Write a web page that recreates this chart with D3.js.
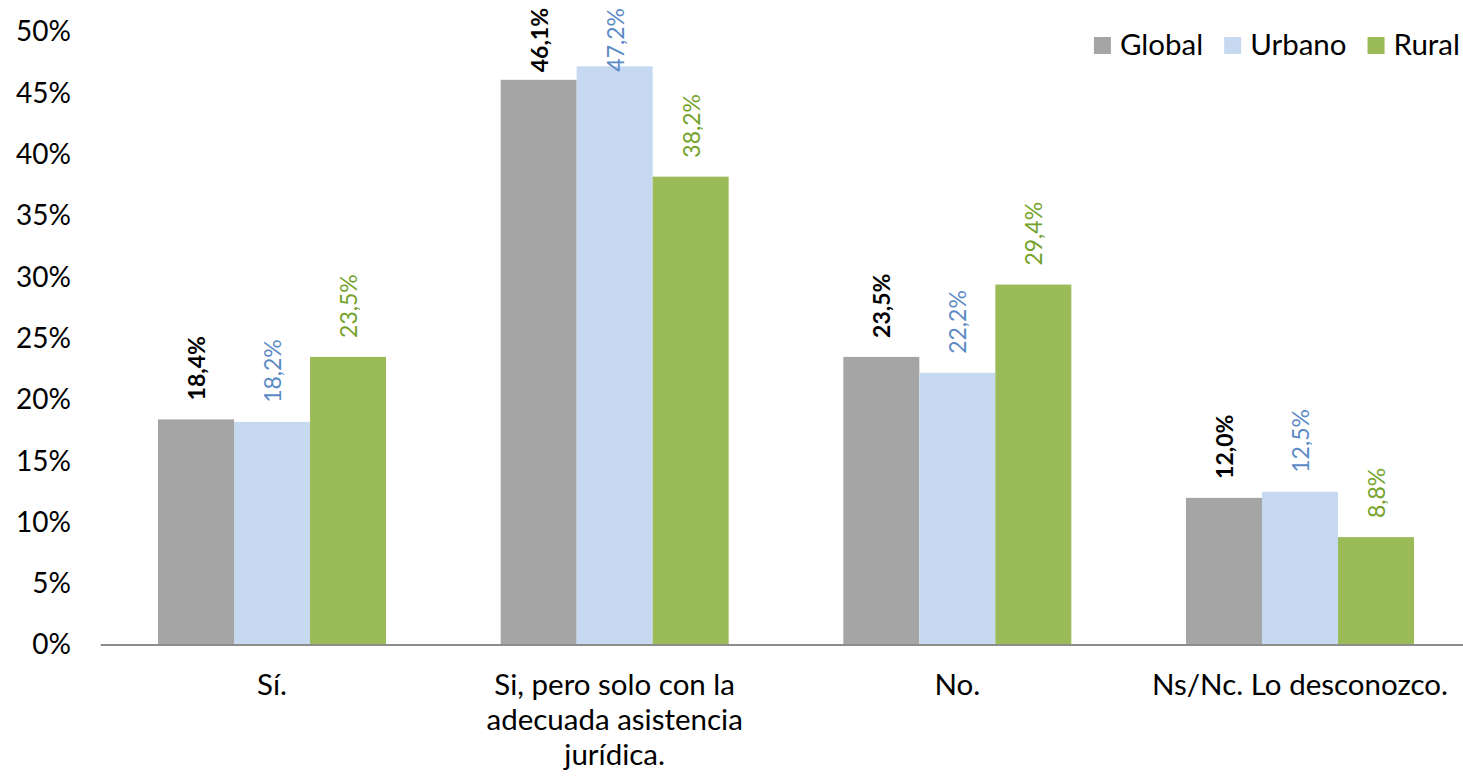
<!DOCTYPE html>
<html><head><meta charset="utf-8">
<script src="https://cdn.jsdelivr.net/npm/d3@7"></script>
<style>
html,body{margin:0;padding:0;background:#fff;}
svg{display:block;font-family:Lato,"Open Sans",sans-serif;}
</style></head>
<body>
<svg id="chart" width="1463" height="778"></svg>
<script>
const categories = ["Sí.", "Si, pero solo con la adecuada asistencia jurídica.", "No.", "Ns/Nc. Lo desconozco."];
const seriesNames = ["Global", "Urbano", "Rural"];
const globalValues = [18.4, 46.1, 23.5, 12.0];
const urbanoValues = [18.2, 47.2, 22.2, 12.5];
const ruralValues = [23.5, 38.2, 29.4, 8.8];
const yTicks = [0, 5, 10, 15, 20, 25, 30, 35, 40, 45, 50];

const seriesValues = [globalValues, urbanoValues, ruralValues];
const barColors = ["#A5A5A5", "#C6D9F1", "#9BBB59"];
const labelColors = ["#000000", "#5B8AC6", "#74A22A"];
const labelWeights = ["bold", "normal", "normal"];

const svg = d3.select("#chart");
const x0 = d3.scaleBand().domain(categories).range([100.7, 1471.3]).paddingInner(0.3346).paddingOuter(0.1673);
const x1 = d3.scaleBand().domain(seriesNames).range([0, x0.bandwidth()]).padding(0);
const y = d3.scaleLinear().domain([0, 50]).range([645, 32]);

// y tick labels
const yAxis = svg.append("g").attr("transform", "translate(71,0)")
  .call(d3.axisLeft(y).tickValues(yTicks).tickSize(0).tickPadding(0).tickFormat(d => d + "%"));
yAxis.select(".domain").remove();
yAxis.selectAll("text").attr("font-size", 28).attr("fill", "#000").attr("font-family", "Lato");

// bars
const data = [];
categories.forEach((c, i) => seriesNames.forEach((s, j) => data.push({c, s, j, v: seriesValues[j][i]})));

svg.append("g").selectAll("rect").data(data).join("rect")
  .attr("x", d => x0(d.c) + x1(d.s))
  .attr("y", d => y(d.v))
  .attr("width", x1.bandwidth())
  .attr("height", d => y(0) - y(d.v))
  .attr("fill", d => barColors[d.j]);

// x axis line
const xAxis = svg.append("g").attr("transform", "translate(0,645)")
  .call(d3.axisBottom(x0).tickSize(0).tickFormat(""));
xAxis.select(".domain").attr("stroke", "#8C8C8C").attr("stroke-width", 2)
  .attr("d", "M100.7,0H1463");

// category labels (wrapped)
const catG = svg.append("g");
categories.forEach(c => {
  const cx = x0(c) + x0.bandwidth() / 2;
  const t = catG.append("text").attr("text-anchor", "middle").attr("font-size", 29.5).attr("fill", "#000")
    .attr("x", cx).attr("y", 695);
  const words = c.split(" ");
  let line = [];
  let ts = t.append("tspan").attr("x", cx).attr("dy", 0);
  words.forEach(w => {
    line.push(w);
    ts.text(line.join(" "));
    if (ts.node().getComputedTextLength() > 320 && line.length > 1) {
      line.pop();
      ts.text(line.join(" "));
      line = [w];
      ts = t.append("tspan").attr("x", cx).attr("dy", 35).text(w);
    }
  });
});

// value labels
const fmt = v => d3.format(".1f")(v).replace(".", ",") + "%";
svg.append("g").selectAll("text").data(data).join("text")
  .text(d => fmt(d.v))
  .attr("font-size", 23)
  .attr("font-weight", d => labelWeights[d.j])
  .attr("fill", d => labelColors[d.j])
  .attr("dominant-baseline", "central")
  .attr("text-anchor", "start")
  .each(function(d) {
    const len = this.getComputedTextLength();
    const cx = x0(d.c) + x1(d.s) + x1.bandwidth() / 2;
    const yStart = Math.max(y(d.v) - 19, 8 + len);
    d3.select(this).attr("transform", `translate(${cx},${yStart}) rotate(-90)`);
  });

// legend (laid out, then right-aligned to fit within the view)
const legend = svg.append("g");
let lx = 0;
seriesNames.forEach((s, j) => {
  legend.append("rect").attr("x", lx).attr("y", 37).attr("width", 17).attr("height", 17).attr("fill", barColors[j]);
  const t = legend.append("text").attr("x", lx + 26).attr("y", 55).attr("font-size", 29.5).attr("fill", "#000").text(s);
  lx += 26 + t.node().getComputedTextLength() + 21;
});
const legendWidth = lx - 21;
legend.attr("transform", `translate(${Math.min(1100, 1460 - legendWidth)},0)`);
</script>
</body></html>
